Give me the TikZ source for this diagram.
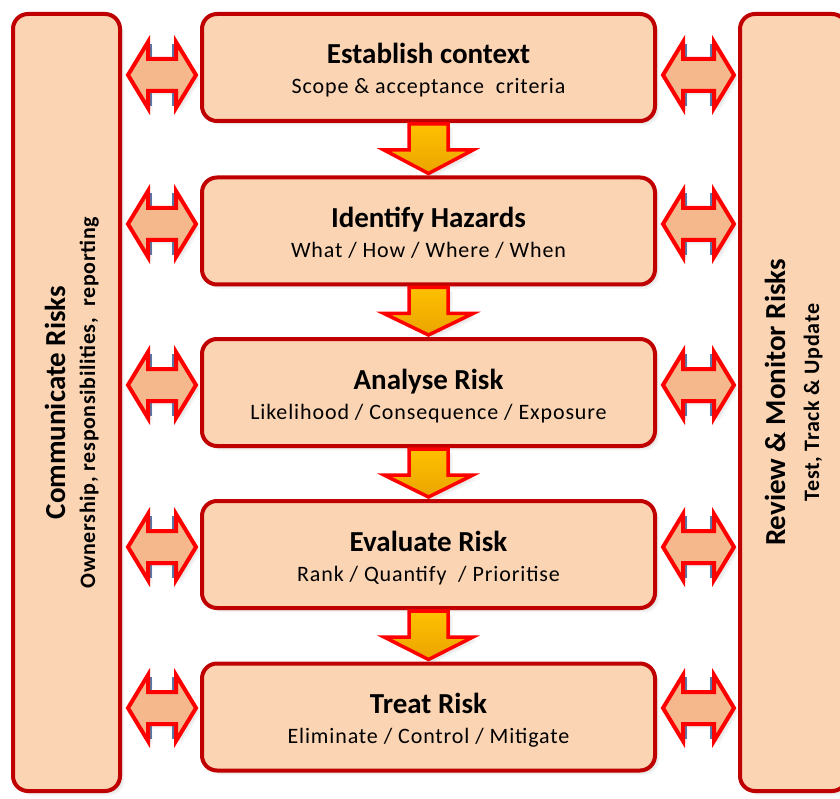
\documentclass[tikz,border=0pt]{standalone}
\usepackage{fontspec}
\setmainfont{Carlito}
\usetikzlibrary{calc,shadows}

\definecolor{boxfill}{HTML}{FBD4B4}
\definecolor{boxline}{HTML}{C00000}
\definecolor{linkfill}{HTML}{F4B88C}
\definecolor{linkline}{HTML}{FF0000}
\definecolor{notchblue}{HTML}{5577AA}
\definecolor{goldtop}{HTML}{FFC000}
\definecolor{goldbottom}{HTML}{EAA500}

\tikzset{
  softshadow/.style={
    drop shadow={opacity=.10, shadow xshift=1.5pt, shadow yshift=-1.5pt},
    drop shadow={opacity=.10, shadow xshift=3pt, shadow yshift=-3pt},
    drop shadow={opacity=.08, shadow xshift=4.5pt, shadow yshift=-4.5pt}},
  stepbox/.style={draw=boxline, line width=4pt, fill=boxfill,
    rounded corners=15pt, minimum width=453pt, minimum height=107pt,
    inner sep=0pt, align=center, softshadow},
  sidebar/.style={stepbox, minimum width=107pt, minimum height=777pt},
  linkarrow/.style={draw=linkline, line width=4pt, fill=linkfill,
    line join=miter, softshadow},
  notch/.style={draw=notchblue, line width=2.5pt},
  flowarrow/.style={draw=linkline, line width=3.5pt, line join=miter,
    top color=goldtop, bottom color=goldbottom, softshadow}
}

% fonts of headings and of second lines
\newcommand\headfont{\fontsize{29}{30}\selectfont\bfseries}
\newcommand\subfont{\fontsize{22}{25}\selectfont\addfontfeatures{LetterSpace=4}}
\newcommand\subboldfont{\fontsize{22}{25}\selectfont\bfseries\addfontfeatures{LetterSpace=3}}

% title and subtitle of one step
\newcommand\steptext[2]{%
  \fontsize{29}{30}\selectfont
  \begin{tabular}{@{}c@{}}
    \rule{0pt}{32pt}\headfont #1\\
    \subfont #2
  \end{tabular}}

% two-headed arrow between a side bar and a step
\newcommand\sidearrow[3]{%
  \path[notch] let \p1=(#1), \p2=(#2) in
    (\x1+28.5pt,-#3pt+17pt) -- (\x1+28.5pt,-#3pt+31pt)
    (\x1+28.5pt,-#3pt-17pt) -- (\x1+28.5pt,-#3pt-31pt)
    (\x2-26.5pt,-#3pt+17pt) -- (\x2-26.5pt,-#3pt+31pt)
    (\x2-26.5pt,-#3pt-17pt) -- (\x2-26.5pt,-#3pt-31pt);
  \path[linkarrow] let \p1=(#1), \p2=(#2) in
    (\x1+6pt,-#3pt) -- (\x1+26pt,-#3pt+33pt) -- (\x1+26pt,-#3pt+16pt)
    -- (\x2-24pt,-#3pt+16pt) -- (\x2-24pt,-#3pt+33pt) -- (\x2-4pt,-#3pt)
    -- (\x2-24pt,-#3pt-33pt) -- (\x2-24pt,-#3pt-16pt)
    -- (\x1+26pt,-#3pt-16pt) -- (\x1+26pt,-#3pt-33pt) -- cycle;}

% downward arrow from one step to the next
\newcommand\stepflow[2]{%
  \path[flowarrow] let \p1=(#1.south), \p2=(#2.north) in
    (\x1-19.5pt,\y1-1pt) -- (\x1+19.5pt,\y1-1pt) -- (\x1+19.5pt,\y1-27pt)
    -- (\x1+44.5pt,\y1-27pt) -- (\x1,\y2+2pt) -- (\x1-44.5pt,\y1-27pt)
    -- (\x1-19.5pt,\y1-27pt) -- cycle;}

\begin{document}
\begin{tikzpicture}[x=1pt,y=-1pt]
  \useasboundingbox (0,0) rectangle (840,799);
  \clip (0,0) rectangle (840,799);

  % side bars
  \node[sidebar] (commL) at (66.5,402.5) {\hspace*{15pt}\rotatebox{90}{%
    \fontsize{29}{30}\selectfont
    \begin{tabular}{@{}c@{}}
      \headfont Communicate Risks\\
      \subboldfont Ownership, responsibilities,\ \ reporting
    \end{tabular}}};
  \node[sidebar] (review) at (793.5,402.5) {\hspace*{5pt}\rotatebox{90}{%
    \fontsize{29}{30}\selectfont
    \begin{tabular}{@{}c@{}}
      \headfont Review \& Monitor Risks\\[4pt]
      \subboldfont Test, Track \& Update
    \end{tabular}}};

  % process steps
  \node[stepbox] (s1) at (428.5,67.5) {\steptext{Establish context}{Scope \& acceptance\ \ criteria}};
  \node[stepbox] (s2) at (428.5,231) {\steptext{Identify Hazards}{What / How / Where / When}};
  \node[stepbox] (s3) at (428.5,392.5) {\steptext{Analyse Risk}{Likelihood / Consequence / Exposure}};
  \node[stepbox] (s4) at (428.5,554.5) {\steptext{Evaluate Risk}{Rank / Quantify\ \ / Prioritise}};
  \node[stepbox] (s5) at (428.5,717) {\steptext{Treat Risk}{Eliminate / Control / Mitigate}};

  % flow between steps
  \stepflow{s1}{s2}
  \stepflow{s2}{s3}
  \stepflow{s3}{s4}
  \stepflow{s4}{s5}

  % links to the side bars
  \sidearrow{commL.east}{s1.west}{75}
  \sidearrow{commL.east}{s2.west}{224}
  \sidearrow{commL.east}{s3.west}{385}
  \sidearrow{commL.east}{s4.west}{547}
  \sidearrow{commL.east}{s5.west}{708}
  \sidearrow{s1.east}{review.west}{75}
  \sidearrow{s2.east}{review.west}{224}
  \sidearrow{s3.east}{review.west}{385}
  \sidearrow{s4.east}{review.west}{547}
  \sidearrow{s5.east}{review.west}{708}
\end{tikzpicture}
\end{document}
